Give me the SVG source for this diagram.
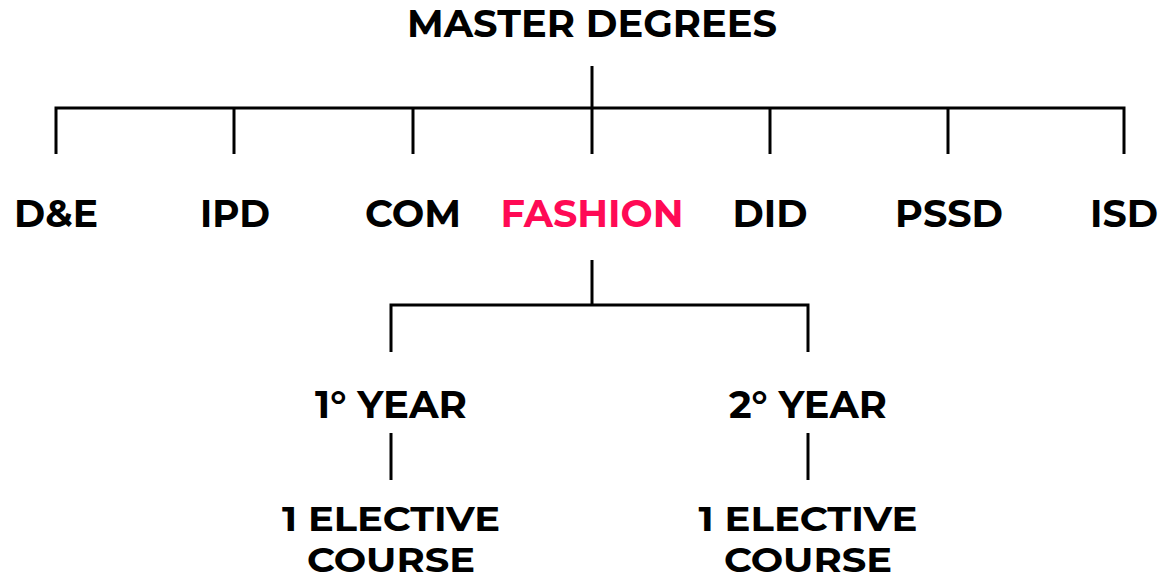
<svg xmlns="http://www.w3.org/2000/svg" width="1163" height="581" viewBox="0 0 1163 581">
<style>
text{font-family:"Montserrat","Liberation Sans","Arial",sans-serif;font-weight:bold;text-anchor:middle;fill:#000;font-size:38px}
.sm{font-size:35px}
.pink{fill:#FF0A55}
.c line,.c path{stroke:#000;stroke-width:3;fill:none}
</style>
<rect width="1163" height="581" fill="#fff"/>
<g id="connectors" class="c">
<line x1="592" y1="66" x2="592" y2="154"/>
<path d="M56,154 V108 H1124 V154"/>
<line x1="234" y1="108" x2="234" y2="154"/>
<line x1="413" y1="108" x2="413" y2="154"/>
<line x1="770" y1="108" x2="770" y2="154"/>
<line x1="948" y1="108" x2="948" y2="154"/>
<line x1="592" y1="260" x2="592" y2="305"/>
<path d="M391,352 V305 H808 V352"/>
<line x1="391" y1="433" x2="391" y2="480"/>
<line x1="808" y1="433" x2="808" y2="480"/>
</g>
<g id="master"><text x="592" y="37" textLength="370" lengthAdjust="spacingAndGlyphs">MASTER DEGREES</text></g>
<g id="de"><text x="56" y="227" textLength="84" lengthAdjust="spacingAndGlyphs">D&amp;E</text></g>
<g id="ipd"><text x="235" y="227" textLength="70" lengthAdjust="spacingAndGlyphs">IPD</text></g>
<g id="com"><text x="413" y="227" textLength="96" lengthAdjust="spacingAndGlyphs">COM</text></g>
<g id="fashion"><text class="pink" x="592" y="227" textLength="183" lengthAdjust="spacingAndGlyphs">FASHION</text></g>
<g id="did"><text x="770" y="227" textLength="75" lengthAdjust="spacingAndGlyphs">DID</text></g>
<g id="pssd"><text x="949" y="227" textLength="108" lengthAdjust="spacingAndGlyphs">PSSD</text></g>
<g id="isd"><text x="1124" y="227" textLength="68" lengthAdjust="spacingAndGlyphs">ISD</text></g>
<g id="year1"><text x="391" y="418" textLength="152" lengthAdjust="spacingAndGlyphs">1° YEAR</text></g>
<g id="year2"><text x="808" y="418" textLength="158" lengthAdjust="spacingAndGlyphs">2° YEAR</text></g>
<g id="elective1"><text class="sm" x="391" y="531" textLength="218" lengthAdjust="spacingAndGlyphs">1 ELECTIVE</text><text class="sm" x="391" y="572" textLength="168" lengthAdjust="spacingAndGlyphs">COURSE</text></g>
<g id="elective2"><text class="sm" x="808" y="531" textLength="219" lengthAdjust="spacingAndGlyphs">1 ELECTIVE</text><text class="sm" x="808" y="572" textLength="168" lengthAdjust="spacingAndGlyphs">COURSE</text></g>
</svg>
